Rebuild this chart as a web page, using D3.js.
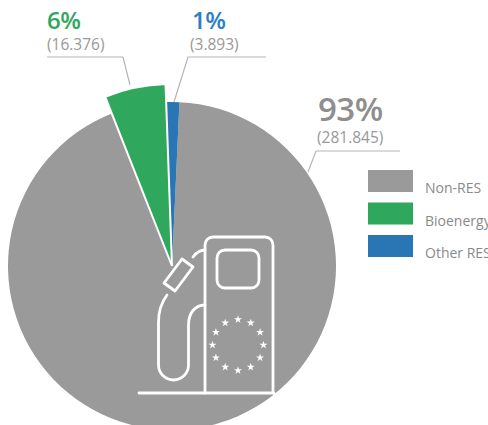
<!DOCTYPE html>
<html>
<head>
<meta charset="utf-8">
<script src="https://cdn.jsdelivr.net/npm/d3@7"></script>
<style>
  html, body { margin: 0; padding: 0; background: #fff; overflow: hidden; }
  svg { display: block; font-family: "Open Sans", sans-serif; }
</style>
</head>
<body>
<svg id="chart" width="488" height="425"></svg>
<script>
// Fuel energy mix by source
const categories = ["Non-RES", "Bioenergy", "Other RES"];
const amounts = [281.845, 16.376, 3.893];
const amountLabels = ["(281.845)", "(16.376)", "(3.893)"];
const shareLabels = ["93%", "6%", "1%"];
const colors = ["#9a9a9a", "#2fa75d", "#2a75b3"];
const textColors = ["#8e8e8e", "#2fa75d", "#2a7fc0"];

const svg = d3.select("#chart");
const cx = 172, cy = 266, radius = 164;
const deg = Math.PI / 180;

// Non-RES starts just right of twelve o'clock; the two renewable slices close the circle.
const pie = d3.pie().sort(null).value(d => d)
  .startAngle(2.6 * deg).endAngle((360 + 2.6) * deg);
const outerRadii = [radius, 182, radius];
const arc = d3.arc().innerRadius(0);

const slices = svg.append("g").attr("transform", `translate(${cx},${cy})`);
slices.selectAll("path")
  .data(pie(amounts))
  .join("path")
  .attr("d", (d, i) => arc.outerRadius(outerRadii[i])(d))
  .attr("fill", (d, i) => colors[i])
  .attr("stroke", (d, i) => i === 1 ? "#fff" : "none")
  .attr("stroke-width", 2)
  .attr("stroke-linejoin", "miter");
// Green goes on top so its white outline cuts into the neighbours.
slices.selectAll("path").filter((d, i) => i === 1).raise();

// Leader lines
const leaders = [
  [[400, 151], [316, 151], [308, 172]],
  [[47, 57], [123, 57], [130, 85]],
  [[266, 57], [188, 57], [174, 102]]
];
svg.append("g").selectAll("path")
  .data(leaders)
  .join("path")
  .attr("d", d3.line())
  .attr("fill", "none")
  .attr("stroke", "#b5b5b5")
  .attr("stroke-width", 1.2);

// Callouts: percentage over absolute amount
const shareSpec = [
  { x: 318, y: 121, size: 33, subX: 317, subY: 143, subSize: 15.5 },
  { x: 47, y: 29, size: 24, subX: 47, subY: 50, subSize: 15.5 },
  { x: 192, y: 29, size: 24, subX: 190, subY: 50, subSize: 15.5 }
];
shareLabels.forEach((label, i) => {
  const s = shareSpec[i];
  svg.append("text").attr("x", s.x).attr("y", s.y)
    .attr("font-size", s.size).attr("font-weight", 600)
    .attr("letter-spacing", -0.5)
    .attr("fill", textColors[i]).text(label);
  svg.append("text").attr("x", s.subX).attr("y", s.subY)
    .attr("font-size", s.subSize)
    .attr("fill", "#999").text(amountLabels[i]);
});

// Legend
const legendY = d3.scalePoint().domain(categories).range([170, 235]);
const legend = svg.append("g").selectAll("g")
  .data(categories)
  .join("g")
  .attr("transform", d => `translate(368,${legendY(d)})`);
legend.append("rect")
  .attr("width", 45).attr("height", 22)
  .attr("fill", (d, i) => colors[i]);
legend.append("text")
  .attr("x", 57).attr("y", 23)
  .attr("font-size", 14)
  .attr("fill", "#8a8a8a")
  .text(d => d);

// Fuel pump pictogram
const icon = svg.append("g")
  .attr("fill", "none")
  .attr("stroke", "#fff")
  .attr("stroke-width", 2.8)
  .attr("stroke-linecap", "round")
  .attr("stroke-linejoin", "round");
icon.append("path").attr("d", "M205,393V245a8,8 0 0 1 8,-8H265a8,8 0 0 1 8,8V393");
icon.append("rect").attr("x", 217).attr("y", 250).attr("width", 42).attr("height", 38).attr("rx", 8);
icon.append("path").attr("d", "M139,393H274");
icon.append("path").attr("d", "M182,259L193,267L175,291L164,283Z");
icon.append("path").attr("d", "M193,257C196,253 200,250 205,250");
icon.append("path").attr("d", "M167,295C161,303 158.5,312 158.5,322V365a15,15 0 0 0 30,0V325C188.5,313 195,305 205,305");

// Ring of twelve stars on the pump body
const star = d3.symbol().type(d3.symbolStar).size(20);
svg.append("g").selectAll("path")
  .data(d3.range(12))
  .join("path")
  .attr("d", star)
  .attr("fill", "#fff")
  .attr("transform", i => {
    const a = i * 30 * deg;
    return `translate(${238 + 25.5 * Math.sin(a)},${345 - 25.5 * Math.cos(a)})`;
  });
</script>
</body>
</html>
